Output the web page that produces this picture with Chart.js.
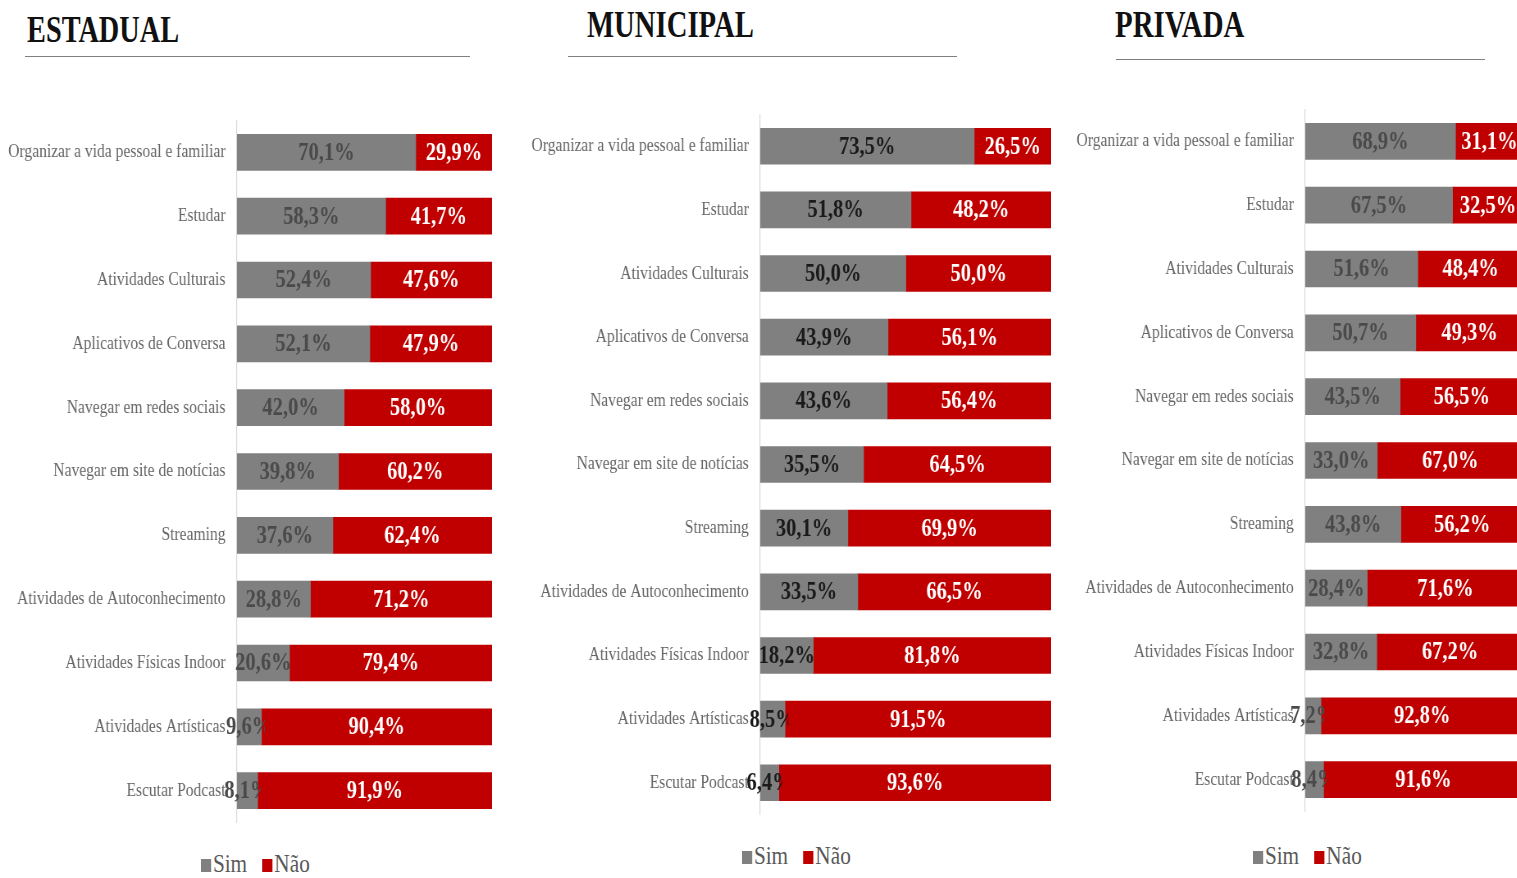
<!DOCTYPE html>
<html>
<head>
    <title>Estadual / Municipal / Privada</title>
    <script src="https://cdn.jsdelivr.net/npm/chart.js"></script>
    <style>
        body { margin: 0; width: 1517px; height: 878px; overflow: hidden; background: #fff; position: relative; font-family: "Liberation Serif", serif; }
        .panel { position: absolute; transform: scaleX(0.82); transform-origin: 0 0; }
        .title { position: absolute; font-weight: bold; font-size: 38px; color: #111; transform-origin: 0 0; white-space: nowrap; }
        .rule { position: absolute; height: 0; border-top: 1.5px solid #808080; }
        .legend { position: absolute; font-size: 25px; color: #595959; white-space: nowrap; transform: scaleX(0.85); transform-origin: 0 0; }
        .legend .sw { display: inline-block; width: 12px; height: 13px; margin-right: 2px; vertical-align: 0px; }
        .legend .item { margin-right: 18px; }
    </style>
</head>
<body>
    <div class="title" style="left:27px; top:7px; transform:scaleX(0.745);">ESTADUAL</div>
    <div class="rule" style="left:25px; top:56px; width:445px;"></div>
    <div class="title" style="left:587px; top:2px; transform:scaleX(0.755);">MUNICIPAL</div>
    <div class="rule" style="left:568px; top:56px; width:389px;"></div>
    <div class="title" style="left:1115px; top:2px; transform:scaleX(0.76);">PRIVADA</div>
    <div class="rule" style="left:1116px; top:59px; width:369px;"></div>

    <div class="panel" style="left:0px; top:103px;"><canvas id="c1" width="600" height="737"></canvas></div>
    <div class="panel" style="left:520px; top:97px;"><canvas id="c2" width="648" height="735"></canvas></div>
    <div class="panel" style="left:1065px; top:92px;"><canvas id="c3" width="559" height="737"></canvas></div>

    <div class="legend" style="left:201px; top:850px;"><span class="item"><span class="sw" style="background:#808080"></span>Sim</span><span class="sw" style="background:#c00000"></span>Não</div>
    <div class="legend" style="left:742px; top:842px;"><span class="item"><span class="sw" style="background:#808080"></span>Sim</span><span class="sw" style="background:#c00000"></span>Não</div>
    <div class="legend" style="left:1253px; top:842px;"><span class="item"><span class="sw" style="background:#808080"></span>Sim</span><span class="sw" style="background:#c00000"></span>Não</div>

    <script>
        // categorias (iguais nos três painéis)
        const categorias = [
            'Organizar a vida pessoal e familiar',
            'Estudar',
            'Atividades Culturais',
            'Aplicativos de Conversa',
            'Navegar em redes sociais',
            'Navegar em site de notícias',
            'Streaming',
            'Atividades de Autoconhecimento',
            'Atividades Físicas Indoor',
            'Atividades Artísticas',
            'Escutar Podcast'
        ];

        // % Sim / Não por rede
        const estadualSim = [70.1, 58.3, 52.4, 52.1, 42.0, 39.8, 37.6, 28.8, 20.6, 9.6, 8.1];
        const estadualNao = [29.9, 41.7, 47.6, 47.9, 58.0, 60.2, 62.4, 71.2, 79.4, 90.4, 91.9];
        const municipalSim = [73.5, 51.8, 50.0, 43.9, 43.6, 35.5, 30.1, 33.5, 18.2, 8.5, 6.4];
        const municipalNao = [26.5, 48.2, 50.0, 56.1, 56.4, 64.5, 69.9, 66.5, 81.8, 91.5, 93.6];
        const privadaSim = [68.9, 67.5, 51.6, 50.7, 43.5, 33.0, 43.8, 28.4, 32.8, 7.2, 8.4];
        const privadaNao = [31.1, 32.5, 48.4, 49.3, 56.5, 67.0, 56.2, 71.6, 67.2, 92.8, 91.6];

        const corSim = '#808080';
        const corNao = '#c00000';

        // rótulos de dados desenhados à mão (sem plugin externo)
        const rotulos = {
            id: 'rotulos',
            afterDatasetsDraw(chart, args, opts) {
                const ctx = chart.ctx;
                ctx.save();
                ctx.textAlign = 'center';
                ctx.textBaseline = 'middle';
                ctx.font = 'bold 25px "Liberation Serif", serif';
                chart.data.datasets.forEach((ds, di) => {
                    const meta = chart.getDatasetMeta(di);
                    meta.data.forEach((bar, i) => {
                        const txt = ds.data[i].toFixed(1).replace('.', ',') + '%';
                        const cx = (bar.x + bar.base) / 2;
                        ctx.save();
                        if (di === 0) {
                            // o segmento vermelho cobre o que passa do cinza
                            ctx.beginPath();
                            ctx.rect(0, bar.y - 30, bar.x + 4, 60);
                            ctx.clip();
                            ctx.fillStyle = opts.corSim;
                        } else {
                            ctx.fillStyle = '#ffffff';
                        }
                        ctx.fillText(txt, cx, bar.y + 1);
                        ctx.restore();
                    });
                });
                ctx.restore();
            }
        };

        function criarGrafico(id, sim, nao, eixoLargura, corRotuloSim) {
            const ctx = document.getElementById(id).getContext('2d');
            return new Chart(ctx, {
                type: 'bar',
                data: {
                    labels: categorias,
                    datasets: [
                        { label: 'Sim', data: sim, backgroundColor: corSim, barThickness: 36 },
                        { label: 'Não', data: nao, backgroundColor: corNao, barThickness: 36 }
                    ]
                },
                options: {
                    indexAxis: 'y',
                    responsive: false,
                    animation: false,
                    layout: { padding: 0 },
                    plugins: {
                        legend: { display: false },
                        tooltip: { enabled: false },
                        rotulos: { corSim: corRotuloSim }
                    },
                    scales: {
                        x: { stacked: true, min: 0, max: 100, display: false },
                        y: {
                            stacked: true,
                            grid: { display: false },
                            border: { display: true, color: '#d9d9d9', width: 1.2 },
                            ticks: {
                                color: '#666666',
                                padding: 6,
                                font: { family: '"Liberation Serif", serif', size: 19 }
                            },
                            afterFit(scale) { scale.width = eixoLargura; }
                        }
                    }
                },
                plugins: [rotulos]
            });
        }

        // larguras do eixo em pixels do canvas (o canvas é comprimido a 0.82)
        criarGrafico('c1', estadualSim, estadualNao, 289, '#4a4a4a');
        criarGrafico('c2', municipalSim, municipalNao, 293, '#1a1a1a');
        criarGrafico('c3', privadaSim, privadaNao, 293, '#4a4a4a');
    </script>
</body>
</html>
